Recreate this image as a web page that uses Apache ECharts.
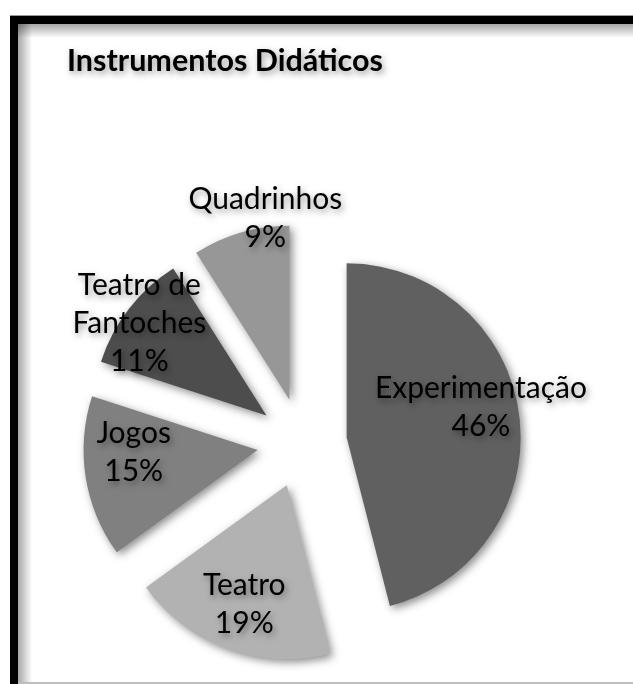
<!DOCTYPE html>
<html>
<head>
<meta charset="utf-8">
<script src="https://cdn.jsdelivr.net/npm/echarts@6/dist/echarts.min.js"></script>
<style>
  html, body { margin: 0; padding: 0; background: #ffffff; }
  #chart { width: 633px; height: 684px; }
</style>
</head>
<body>
<div id="chart"></div>
<script>
// Instrumentos didáticos: share of each teaching tool (percent)
const categories = ['Experimentação', 'Teatro', 'Jogos', 'Teatro de Fantoches', 'Quadrinhos'];
const shares = [46, 19, 15, 11, 9];
const sliceColors = ['#606060', '#b2b2b2', '#808080', '#4d4d4d', '#979797'];
// nudges of each label away from the default inside spot
const labelShift = [[45, -19], [-12, 34], [-35, -12], [-56, -37], [1, -95]];

const chart = echarts.init(document.getElementById('chart'), null, { renderer: 'canvas' });

const textShadow = {
  textShadowColor: 'rgba(0,0,0,0.4)',
  textShadowBlur: 6,
  textShadowOffsetX: 2,
  textShadowOffsetY: 3
};

const data = categories.map((name, i) => ({
  name: name,
  value: shares[i],
  selected: true,
  itemStyle: { color: sliceColors[i] },
  select: { itemStyle: { color: sliceColors[i] } }
}));

chart.setOption({
  animation: false,
  backgroundColor: '#ffffff',
  title: {
    text: 'Instrumentos Didáticos',
    left: 62,
    top: 41,
    textStyle: Object.assign({
      fontFamily: 'Lato',
      fontWeight: 'bold',
      fontSize: 30.5,
      color: '#000000'
    }, textShadow)
  },
  graphic: [
    // inner soft shadow of the frame
    { type: 'rect', shape: { x: 18, y: 24, width: 14, height: 660 }, silent: true,
      style: { fill: new echarts.graphic.LinearGradient(0, 0, 1, 0, [
        { offset: 0, color: 'rgba(0,0,0,0.35)' }, { offset: 1, color: 'rgba(0,0,0,0)' }]) } },
    { type: 'rect', shape: { x: 18, y: 24, width: 615, height: 14 }, silent: true,
      style: { fill: new echarts.graphic.LinearGradient(0, 0, 0, 1, [
        { offset: 0, color: 'rgba(0,0,0,0.35)' }, { offset: 1, color: 'rgba(0,0,0,0)' }]) } },
    // frame
    { type: 'rect', shape: { x: 10, y: 15, width: 623, height: 1 }, silent: true, style: { fill: '#9a9a9a' } },
    { type: 'rect', shape: { x: 10, y: 16, width: 8, height: 668 }, silent: true, style: { fill: '#000000' } },
    { type: 'rect', shape: { x: 10, y: 16, width: 623, height: 8 }, silent: true, style: { fill: '#000000' } },
    { type: 'rect', shape: { x: 18, y: 682, width: 615, height: 2 }, silent: true, style: { fill: '#bdbdbd' } }
  ],
  series: [{
    type: 'pie',
    center: [302, 443],
    radius: [0, 174],
    startAngle: 90,
    clockwise: true,
    selectedMode: 'multiple',
    selectedOffset: 45,
    avoidLabelOverlap: false,
    emphasis: { disabled: true },
    itemStyle: {
      borderWidth: 0,
      shadowColor: 'rgba(0,0,0,0.45)',
      shadowBlur: 8,
      shadowOffsetX: 3,
      shadowOffsetY: 3
    },
    label: Object.assign({
      show: true,
      position: 'inside',
      fontFamily: 'Lato',
      fontSize: 30,
      lineHeight: 38,
      color: '#000000',
      align: 'center',
      formatter: p => p.name.replace('Teatro de ', 'Teatro de\n') + '\n' + p.value + '%'
    }, textShadow),
    labelLine: { show: false },
    labelLayout: p => ({ dx: labelShift[p.dataIndex][0], dy: labelShift[p.dataIndex][1] }),
    data: data
  }]
});
</script>
</body>
</html>
